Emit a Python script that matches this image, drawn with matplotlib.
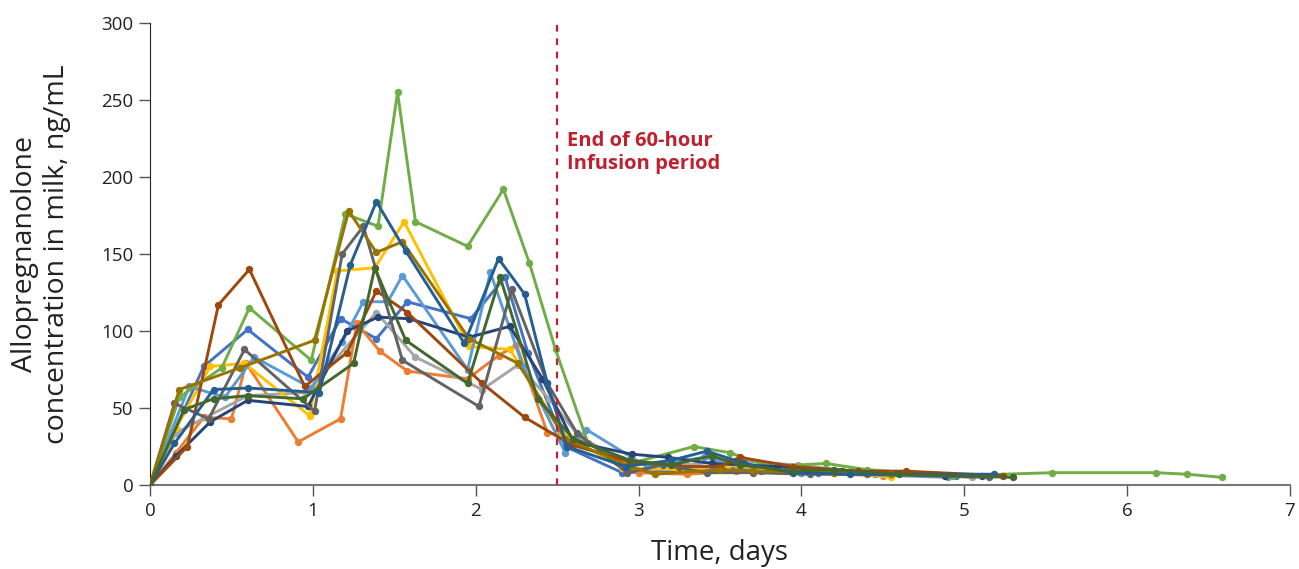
import matplotlib
matplotlib.use("Agg")
import matplotlib.pyplot as plt

plt.rcParams['font.family'] = ['Open Sans', 'DejaVu Sans']

# ---- data (time in days, concentration ng/mL) ----
t_blue = [0, 0.33, 0.60, 0.97, 1.17, 1.39, 1.58, 1.97, 2.18, 2.32, 2.55, 2.90, 3.20, 3.45, 3.75, 4.10, 4.45, 4.95]
v_blue = [0, 77, 101, 70, 108, 95, 119, 108, 135, 86, 25, 8, 9, 12, 9, 8, 7, 6]

t_orange = [0, 0.16, 0.33, 0.50, 0.59, 0.91, 1.17, 1.27, 1.41, 1.58, 1.95, 2.14, 2.25, 2.44, 2.65, 3.0, 3.3, 3.6, 4.0, 4.5]
v_orange = [0, 21, 44, 43, 79, 28, 43, 105, 87, 74, 69, 84, 91, 34, 30, 8, 7, 9, 8, 6]

t_gray = [0, 0.16, 0.60, 0.96, 1.39, 1.63, 2.04, 2.26, 2.45, 2.64, 2.95, 3.30, 3.55, 3.98, 4.3, 5.05]
v_gray = [0, 34, 58, 60, 112, 83, 62, 78, 56, 31, 14, 13, 16, 13, 9, 5]

t_yellow = [0, 0.16, 0.37, 0.58, 0.98, 1.15, 1.38, 1.56, 1.96, 2.21, 2.53, 2.90, 3.25, 3.55, 3.90, 4.20, 4.55]
v_yellow = [0, 37, 77, 79, 45, 139, 141, 171, 90, 88, 34, 11, 10, 13, 9, 8, 5]

t_lblue = [0, 0.24, 0.46, 0.64, 0.99, 1.18, 1.31, 1.46, 1.55, 1.95, 2.09, 2.29, 2.55, 2.68, 3.05, 3.40, 3.70, 4.0, 4.9]
v_lblue = [0, 64, 57, 83, 63, 93, 119, 119, 136, 75, 138, 77, 21, 36, 12, 18, 12, 8, 5]

t_green = [0, 0.18, 0.44, 0.61, 0.99, 1.20, 1.40, 1.52, 1.63, 1.95, 2.17, 2.33, 2.49, 2.69, 2.95, 3.34, 3.56, 3.80, 4.15, 4.40, 4.93, 5.54, 6.18, 6.37, 6.58]
v_green = [0, 57, 76, 115, 81, 176, 168, 255, 171, 155, 192, 144, 88, 27, 14, 25, 21, 12, 14, 10, 6, 8, 8, 7, 5]

t_dblue = [0, 0.16, 0.37, 0.60, 0.97, 1.21, 1.40, 1.59, 1.96, 2.21, 2.41, 2.60, 2.96, 3.18, 3.45, 3.85, 4.25, 4.88, 5.11]
v_dblue = [0, 19, 41, 55, 51, 100, 109, 108, 96, 103, 69, 28, 20, 18, 14, 12, 9, 6, 6]

t_brown = [0, 0.23, 0.42, 0.61, 0.95, 1.21, 1.39, 1.58, 2.04, 2.30, 2.59, 2.95, 3.25, 3.50, 3.62, 3.95, 4.35, 4.64, 5.24]
v_brown = [0, 25, 117, 140, 64, 86, 126, 112, 66, 44, 26, 15, 12, 12, 18, 12, 9, 9, 6]

t_dgray = [0, 0.15, 0.36, 0.58, 1.01, 1.18, 1.31, 1.55, 2.02, 2.22, 2.44, 2.62, 2.93, 3.15, 3.42, 3.70, 4.05, 4.40, 5.15]
v_dgray = [0, 53, 43, 88, 48, 150, 168, 81, 51, 127, 66, 34, 8, 13, 8, 8, 7, 7, 5]

t_olive = [0, 0.18, 0.55, 1.01, 1.22, 1.39, 1.55, 1.96, 2.26, 2.55, 2.95, 3.10, 3.50, 3.70, 4.20, 4.55]
v_olive = [0, 62, 76, 94, 178, 151, 158, 95, 79, 30, 12, 7, 10, 9, 8, 7]

t_mblue = [0, 0.15, 0.39, 0.60, 1.04, 1.23, 1.39, 1.57, 1.93, 2.14, 2.30, 2.44, 2.56, 2.92, 3.20, 3.42, 3.65, 3.95, 4.30, 5.18]
v_mblue = [0, 27, 62, 63, 60, 143, 184, 152, 92, 147, 124, 66, 25, 12, 16, 22, 14, 8, 7, 7]

t_dgreen = [0, 0.21, 0.39, 0.60, 0.94, 1.25, 1.38, 1.57, 1.95, 2.15, 2.38, 2.60, 2.95, 3.20, 3.45, 3.62, 3.95, 4.20, 4.60, 5.30]
v_dgreen = [0, 49, 56, 58, 56, 79, 141, 94, 66, 135, 56, 30, 16, 13, 19, 13, 9, 10, 7, 5]

series = [
    (t_blue, v_blue, '#4472C4'),
    (t_orange, v_orange, '#ED7D31'),
    (t_gray, v_gray, '#A5A5A5'),
    (t_yellow, v_yellow, '#FFC000'),
    (t_lblue, v_lblue, '#5B9BD5'),
    (t_green, v_green, '#70AD47'),
    (t_dblue, v_dblue, '#264478'),
    (t_brown, v_brown, '#9E480E'),
    (t_dgray, v_dgray, '#636363'),
    (t_olive, v_olive, '#997300'),
    (t_mblue, v_mblue, '#255E91'),
    (t_dgreen, v_dgreen, '#43682B'),
]

infusion_end = 2.5
x_ticks = [0, 1, 2, 3, 4, 5, 6, 7]
y_ticks = [0, 50, 100, 150, 200, 250, 300]

fig = plt.figure(figsize=(12.99, 5.69), dpi=100)
ax = fig.add_axes([0.1155, 0.1476, 0.8775, 0.812])

for t, v, c in series:
    ax.plot(t, v, color=c, lw=2.1, marker='o', ms=4.3, mfc=c, mec=c, zorder=3)

ax.axvline(infusion_end, color='#C8202E', lw=1.6, ls=(0, (3, 3)), zorder=4)
ax.text(infusion_end + 0.06, 230, 'End of 60-hour\nInfusion period', color='#C0202E',
        fontsize=14.5, fontweight='bold', ha='left', va='top', linespacing=1.2)

ax.set_xlim(0, 7)
ax.set_ylim(0, 300)
ax.set_xticks(x_ticks)
ax.set_yticks(y_ticks)
ax.tick_params(axis='both', direction='out', length=8, width=1.0, color='#555555',
               labelsize=13.5, labelcolor='#222222', pad=4)
for s in ['top', 'right']:
    ax.spines[s].set_visible(False)
ax.spines['left'].set_color('#222222')
ax.spines['bottom'].set_color('#777777')
ax.spines['bottom'].set_linewidth(1.5)

ax.set_xlabel('Time, days', fontsize=20, color='#222222', labelpad=14)
ax.set_ylabel('Allopregnanolone\nconcentration in milk, ng/mL', fontsize=20.5, color='#222222',
              labelpad=22, linespacing=1.15)

fig.savefig('out.png', dpi=100)
